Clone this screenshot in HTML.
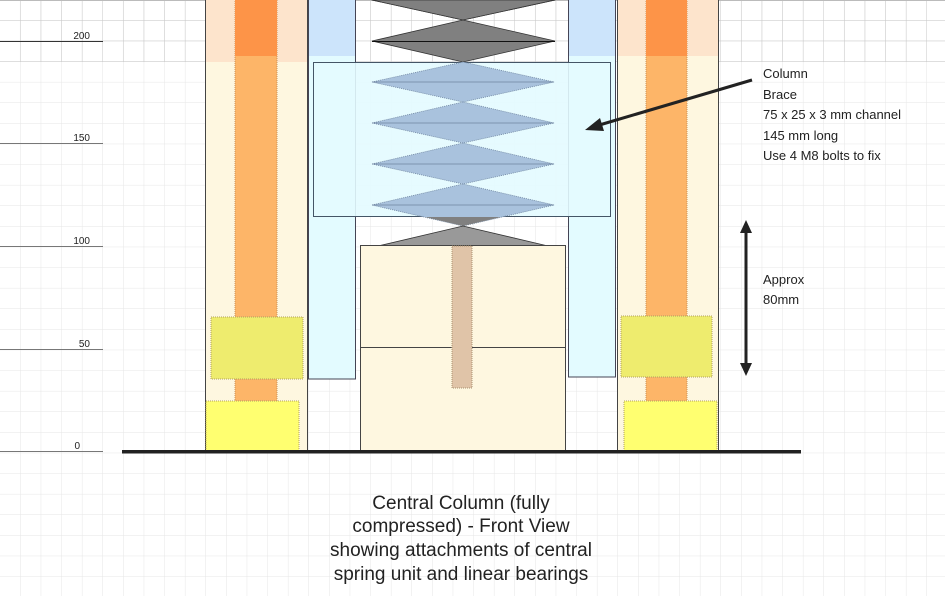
<!DOCTYPE html>
<html><head><style>
html,body{margin:0;padding:0;background:#fff;}
svg{display:block;}
text{font-family:"Liberation Sans",Arial,sans-serif;fill:#222;}
</style></head><body>
<svg width="945" height="596" viewBox="0 0 945 596" xmlns="http://www.w3.org/2000/svg">
<defs>
<pattern id="g" width="20.6" height="20.6" patternUnits="userSpaceOnUse" x="0" y="0">
<path d="M20.6 0V20.6M0 20.6H20.6" stroke="#e6e6e6" stroke-width="1" fill="none"/>
</pattern>
<pattern id="g2" width="20.6" height="20.6" patternUnits="userSpaceOnUse" x="0" y="0">
<path d="M20.6 0V20.6M0 20.6H20.6" stroke="#c8c8c8" stroke-width="1" fill="none"/>
</pattern>
</defs>
<rect width="945" height="596" fill="url(#g)"/>
<rect width="945" height="62" fill="url(#g2)"/>
<rect x="0" y="0" width="945" height="1" fill="#bbb"/>

<!-- tick lines -->
<g stroke="#333" stroke-width="1">
<line x1="0" y1="41.5" x2="103" y2="41.5"/>
<line x1="0" y1="143.5" x2="103" y2="143.5" stroke="#777"/>
<line x1="0" y1="246.5" x2="103" y2="246.5" stroke="#777"/>
<line x1="0" y1="349.5" x2="103" y2="349.5" stroke="#777"/>
<line x1="0" y1="451.5" x2="103" y2="451.5" stroke="#777"/>
</g>
<g font-size="10" text-anchor="end">
<text x="90" y="39">200</text><text x="90" y="141">150</text><text x="90" y="244">100</text><text x="90" y="347">50</text><text x="80" y="449">0</text>
</g>

<!-- left column -->
<rect x="205.5" y="0" width="102" height="452" fill="#fef7e0" stroke="#444"/>
<rect x="206" y="0" width="101" height="62" fill="#fde4cc"/>
<rect x="235" y="0" width="42" height="452" fill="#fdb568" stroke="#c9925a" stroke-dasharray="1 1"/>
<rect x="235" y="0" width="42" height="56" fill="#fd9448"/>
<rect x="211" y="317" width="92" height="62" fill="#eeec6e" stroke="#b0a060" stroke-dasharray="1 1"/>
<rect x="206" y="401" width="93" height="51" fill="#ffff70" stroke="#b0a060" stroke-dasharray="1 1"/>

<!-- right column -->
<rect x="617.5" y="0" width="101" height="452" fill="#fef7e0" stroke="#444"/>
<rect x="618" y="0" width="100" height="56" fill="#fde4cc"/>
<rect x="646" y="0" width="41" height="452" fill="#fdb568" stroke="#c9925a" stroke-dasharray="1 1"/>
<rect x="646" y="0" width="41" height="56" fill="#fd9448"/>
<rect x="621" y="316" width="91" height="61" fill="#eeec6e" stroke="#b0a060" stroke-dasharray="1 1"/>
<rect x="624" y="401" width="93" height="50" fill="#ffff70" stroke="#b0a060" stroke-dasharray="1 1"/>

<!-- blue bars -->
<rect x="308.5" y="0" width="47" height="379" fill="#e3fbff" stroke="#445"/>
<rect x="309" y="0" width="46" height="56" fill="#cce4fb"/>
<rect x="568.5" y="0" width="47" height="377" fill="#e3fbff" stroke="#445"/>
<rect x="569" y="0" width="46" height="56" fill="#cce4fb"/>

<!-- top gray spring -->
<g fill="#808080" stroke="#333" stroke-width="0.8">
<polygon points="372,-21 463,0 555,-21 555,0 463,20 372,0"/>
<polygon points="372,0 463,20 555,0"/>
<polygon points="372,41 463,20 555,41 463,62"/>
</g>
<line x1="372" y1="41.5" x2="555" y2="41.5" stroke="#111"/>

<!-- brace -->
<rect x="313.5" y="62.5" width="297" height="154" fill="#e3fbff" fill-opacity="0.9" stroke="#456"/>
<g fill="#a9c2dd" stroke="#6f85a0" stroke-width="0.8" stroke-dasharray="1 1">
<polygon points="372,82 463,62 554,82 463,102"/>
<polygon points="372,123 463,102 554,123 463,143"/>
<polygon points="372,164 463,143 554,164 463,184"/>
<polygon points="372,205 463,184 554,205 463,226"/>
</g>
<g stroke="#6f85a0" stroke-width="0.8">
<line x1="372" y1="82" x2="554" y2="82"/><line x1="372" y1="123" x2="554" y2="123"/>
<line x1="372" y1="164" x2="554" y2="164"/><line x1="372" y1="205" x2="554" y2="205"/>
</g>
<polygon points="425,217 501,217 463,226" fill="#808080"/>
<polygon points="378,246 463,226 548,246" fill="#999" stroke="#333" stroke-width="0.8"/>

<!-- center box -->
<rect x="360.5" y="245.5" width="205" height="206" fill="#fef7e0" stroke="#444"/>
<line x1="360" y1="347.5" x2="566" y2="347.5" stroke="#444"/>
<rect x="452" y="246" width="20" height="142" fill="#e0c4a8" stroke="#a89070" stroke-dasharray="1 1"/>

<!-- ground -->
<rect x="122" y="450" width="679" height="3.5" fill="#222"/>

<!-- arrows -->
<line x1="752" y1="80" x2="596" y2="126" stroke="#222" stroke-width="3"/>
<polygon points="585,130 600,118 604,131" fill="#222"/>
<line x1="746" y1="230" x2="746" y2="366" stroke="#222" stroke-width="3"/>
<polygon points="746,220 740,233 752,233" fill="#222"/>
<polygon points="746,376 740,363 752,363" fill="#222"/>

<g font-size="13">
<text x="763" y="78">Column</text>
<text x="763" y="99">Brace</text>
<text x="763" y="119">75 x 25 x 3 mm channel</text>
<text x="763" y="140">145 mm long</text>
<text x="763" y="160">Use 4 M8 bolts to fix</text>
<text x="763" y="284">Approx</text>
<text x="763" y="304">80mm</text>
</g>
<g font-size="19" text-anchor="middle">
<text x="461" y="509">Central Column (fully</text>
<text x="461" y="532">compressed) - Front View</text>
<text x="461" y="556">showing attachments of central</text>
<text x="461" y="580">spring unit and linear bearings</text>
</g>
</svg>
</body></html>
